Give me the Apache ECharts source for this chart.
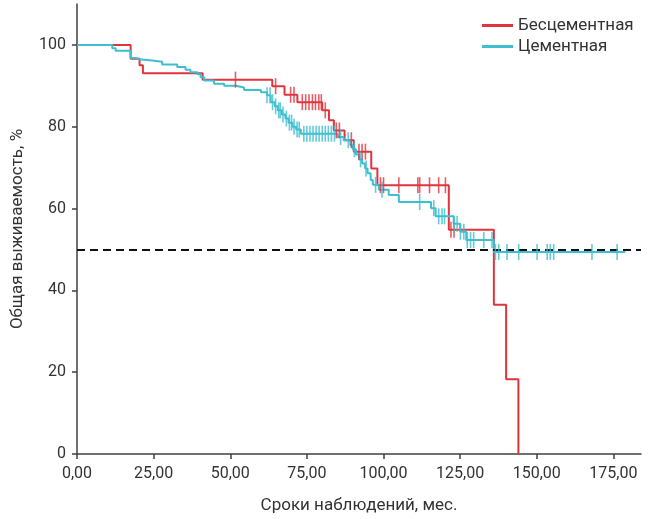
<!DOCTYPE html>
<html>
<head>
<meta charset="utf-8">
<script src="https://cdn.jsdelivr.net/npm/echarts@6/dist/echarts.min.js"></script>
<style>html,body{margin:0;padding:0;background:#fff}#c{width:658px;height:519px}</style>
</head>
<body>
<div id="c"></div>
<script>
// ---- data ----
const seriesNames = ['Бесцементная', 'Цементная'];
const xTicks = [0, 25, 50, 75, 100, 125, 150, 175];
const yTicks = [0, 20, 40, 60, 80, 100];
const xTitle = 'Сроки наблюдений, мес.';
const yTitle = 'Общая выживаемость, %';
const refLevel = 50;

// Бесцементная: step times and survival after each step
const redTimes = [0, 17.5, 20.4, 21.5, 41, 63.7, 67.7, 71.9, 80, 82.2, 83.8, 87.3, 90.3, 96, 98, 121.3, 136, 140, 144];
const redSurv  = [100, 96.6, 95, 93.1, 91.5, 89.9, 87.8, 86, 84, 81.6, 79.1, 76.7, 73.9, 69.8, 65.7, 54.8, 36.5, 18.3, 0];
const redCensor = [51.7, 64.8, 69.7, 70.8, 73.5, 74.6, 75.7, 76.8, 77.8, 78.9, 79.7, 81, 84.6, 85.6, 89.5, 92, 93, 94.1,
  99, 100, 105, 111.2, 111.8, 115, 118, 120.2, 122, 123];

// Цементная
const cyanTimes = [0, 11.5, 12.6, 17.5, 19.1, 20.2, 24.6, 27.8, 32.7, 35.4, 37, 39.3, 40.3, 41.5, 44.7, 48, 51.7, 54.5, 60, 62,
  63.2, 64.5, 65.5, 66.8, 68, 69, 70.3, 71.5, 73, 85, 87, 89.2, 90, 91, 92, 93, 94, 94.8, 95.8, 96.5, 98.5, 101.7, 105,
  115.5, 117, 122.9, 125, 127, 136, 178.9];
const cyanSurv = [100, 99.2, 98.6, 96.8, 96.5, 96.2, 95.9, 95.2, 94.6, 93.9, 93.3, 92.8, 92.1, 91.3, 90.5, 90, 89.6, 89, 88.4, 87.7,
  86, 85, 84, 83, 82, 81, 80, 79.3, 78.3, 77.5, 76.7, 75.5, 74.5, 73.2, 72, 71, 69.8, 68.6, 67, 65.8, 64.6, 63.3, 61.6,
  60.1, 58.1, 56.3, 54.3, 52.3, 49.4, 49.4];
const cyanCensor = [62, 63, 63.8, 64.8, 65.8, 66.3, 67.2, 68.3, 69.3, 70, 70.8, 71.8, 72.5, 74, 75, 76, 77, 78, 79, 80, 81, 82,
  83, 84, 86, 88.5, 90.5, 92.5, 94.3, 97.4, 99.5, 111.8, 116.4, 118, 119.1, 119.9, 123, 124, 125.1, 126.2, 127.3, 128.4,
  129.4, 132.7, 135.4, 136.5, 137.6, 140.3, 144.1, 150.1, 153.4, 154.4, 155.5, 168, 176.2];

// ---- build ----
const RED = '#e0343f', CYAN = '#3dbfcf', TXT = '#333333';
const FONT = "Roboto, 'Noto Sans', sans-serif";
function pairs(ts, ss) { return ts.map((t, i) => [t, ss[i]]); }
function levelAt(ts, ss, t) { let v = ss[0]; for (let i = 0; i < ts.length; i++) { if (ts[i] <= t) v = ss[i]; } return v; }
function censorPts(cs, ts, ss) { return cs.map(t => [t, levelAt(ts, ss, t)]); }

const chart = echarts.init(document.getElementById('c'), null, { renderer: 'canvas' });
chart.setOption({
  animation: false,
  backgroundColor: '#fff',
  textStyle: { fontFamily: FONT },
  grid: { left: 77, right: 17, top: 4, bottom: 60, containLabel: false },
  legend: {
    data: seriesNames, orient: 'vertical', left: 477, top: 12, itemGap: 4,
    itemWidth: 31, itemHeight: 3, icon: 'rect',
    textStyle: { fontFamily: FONT, fontSize: 17, color: TXT }
  },
  xAxis: {
    type: 'value', min: 0, max: 184,
    name: xTitle, nameLocation: 'middle', nameGap: 43,
    nameTextStyle: { fontFamily: FONT, fontSize: 17, color: TXT },
    axisLine: { onZero: false, lineStyle: { color: '#404040', width: 1.5 } },
    axisTick: { customValues: xTicks, length: 5, lineStyle: { color: '#404040', width: 1.5 } },
    axisLabel: { customValues: xTicks, fontSize: 16, color: TXT, margin: 12, formatter: v => v.toFixed(2).replace('.', ',') },
    splitLine: { show: false }
  },
  yAxis: {
    type: 'value', min: 0, max: 110,
    name: yTitle, nameLocation: 'middle', nameGap: 51, nameRotate: 90,
    nameTextStyle: { fontFamily: FONT, fontSize: 17, color: TXT },
    axisLine: { show: true, onZero: false, lineStyle: { color: '#404040', width: 1.5 } },
    axisTick: { show: true, customValues: yTicks, length: 5, lineStyle: { color: '#404040', width: 1.5 } },
    axisLabel: { customValues: yTicks, fontSize: 16, color: TXT, margin: 11 },
    splitLine: { show: false }
  },
  series: [
    { name: seriesNames[0], type: 'line', step: 'end', data: pairs(redTimes, redSurv), showSymbol: false,
      lineStyle: { color: RED, width: 2 }, itemStyle: { color: RED }, z: 2,
      markLine: { silent: true, symbol: 'none', label: { show: false },
        lineStyle: { color: '#111', type: [8, 5], width: 2 }, data: [{ yAxis: refLevel }] } },
    { name: seriesNames[1], type: 'line', step: 'end', data: pairs(cyanTimes, cyanSurv), showSymbol: false,
      lineStyle: { color: CYAN, width: 2 }, itemStyle: { color: CYAN }, z: 3 },
    { name: 'redC', type: 'scatter', data: censorPts(redCensor, redTimes, redSurv), symbol: 'rect',
      symbolSize: [1.6, 16], itemStyle: { color: RED }, z: 4 },
    { name: 'cyanC', type: 'scatter', data: censorPts(cyanCensor, cyanTimes, cyanSurv), symbol: 'rect',
      symbolSize: [1.6, 16], itemStyle: { color: CYAN }, z: 5 }
  ]
});
</script>
</body>
</html>
